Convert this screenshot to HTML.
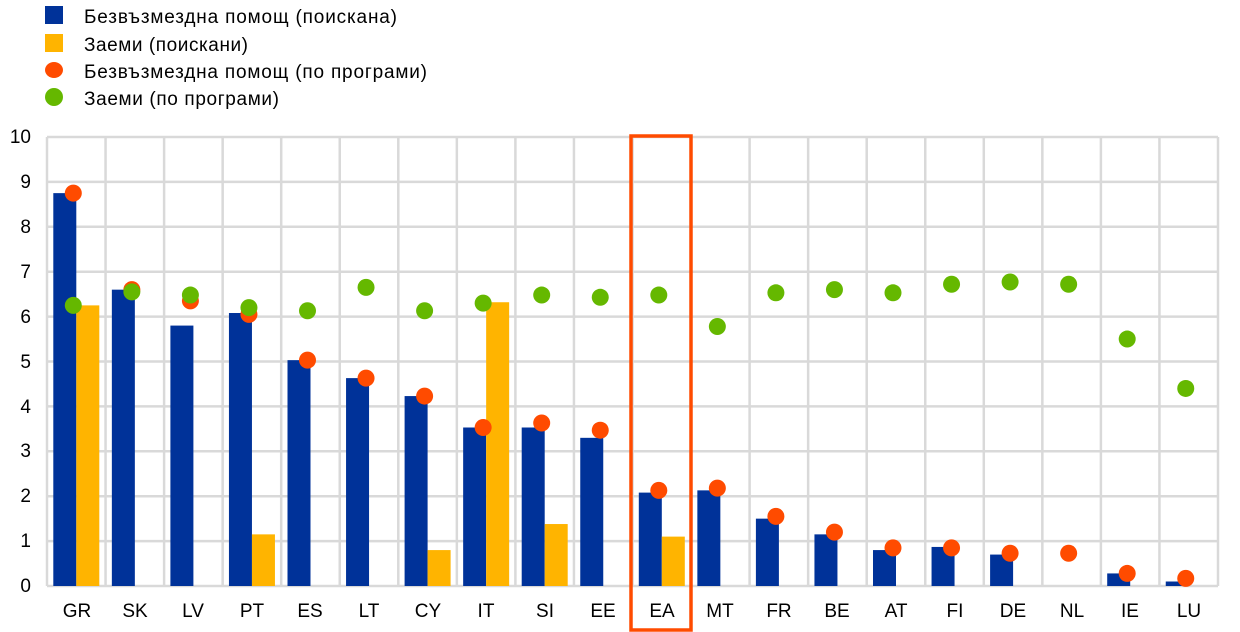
<!DOCTYPE html>
<html><head><meta charset="utf-8"><style>
body{margin:0;background:#fff;}
svg{display:block;font-family:"Liberation Sans",Arial,sans-serif;}
</style></head><body>
<svg id="s" width="1240" height="632" viewBox="0 0 1240 632" xmlns="http://www.w3.org/2000/svg">
<rect width="1240" height="632" fill="#fff"/>
<g id="grid"></g>
<g id="bars"></g>
<g id="dots"></g>
<g font-size="19" fill="#000" text-anchor="end">
<text x="31" y="143">10</text><text x="31" y="188">9</text><text x="31" y="233">8</text><text x="31" y="278">7</text><text x="31" y="323">6</text><text x="31" y="368">5</text><text x="31" y="413">4</text><text x="31" y="457">3</text><text x="31" y="502">2</text><text x="31" y="547">1</text><text x="31" y="592">0</text>
</g>
<g font-size="19" fill="#000" text-anchor="middle">
<text x="77" y="617">GR</text><text x="135" y="617">SK</text><text x="193" y="617">LV</text><text x="252" y="617">PT</text><text x="310" y="617">ES</text><text x="369" y="617">LT</text><text x="428" y="617">CY</text><text x="486" y="617">IT</text><text x="545" y="617">SI</text><text x="603" y="617">EE</text><text x="662" y="617">EA</text><text x="720" y="617">MT</text><text x="779" y="617">FR</text><text x="837" y="617">BE</text><text x="896" y="617">AT</text><text x="955" y="617">FI</text><text x="1013" y="617">DE</text><text x="1072" y="617">NL</text><text x="1130" y="617">IE</text><text x="1189" y="617">LU</text>
</g>
<rect x="631" y="136" width="60" height="494" fill="none" stroke="#ff4b00" stroke-width="3.5"/>
<rect x="45" y="6" width="18" height="18" fill="#003299"/>
<rect x="45" y="34" width="18" height="18" fill="#ffb400"/>
<ellipse cx="54" cy="70" rx="9" ry="8" fill="#ff4b00"/>
<circle cx="54" cy="97" r="9" fill="#65b800"/>
<g font-size="19" fill="#000">
<text x="84" y="23" textLength="313" lengthAdjust="spacing">Безвъзмездна помощ (поискана)</text>
<text x="84" y="51" textLength="164" lengthAdjust="spacing">Заеми (поискани)</text>
<text x="84" y="78" textLength="343" lengthAdjust="spacing">Безвъзмездна помощ (по програми)</text>
<text x="84" y="105" textLength="195" lengthAdjust="spacing">Заеми (по програми)</text>
</g>
</svg>
<script>
var ns="http://www.w3.org/2000/svg";
function el(p,t,a){var e=document.createElementNS(ns,t);for(var k in a)e.setAttribute(k,a[k]);document.getElementById(p).appendChild(e);}
function Y(v){return 586-44.9*v;}
for(var i=0;i<=10;i++)el("grid","line",{x1:47,x2:1218,y1:Y(i),y2:Y(i),stroke:"#d9d9d9","stroke-width":2.5});
for(var i=0;i<=20;i++){var x=47+58.55*i;el("grid","line",{x1:x,x2:x,y1:Y(10),y2:Y(0),stroke:"#d9d9d9","stroke-width":2.5});}
var d=[[8.75,6.25,8.75,6.25],[6.6,0,6.6,6.55],[5.8,0,6.35,6.48],[6.08,1.15,6.05,6.2],[5.03,0,5.03,6.13],[4.63,0,4.63,6.65],[4.23,0.8,4.23,6.13],[3.53,6.32,3.53,6.3],[3.53,1.38,3.63,6.48],[3.3,0,3.47,6.43],[2.08,1.1,2.13,6.48],[2.13,0,2.18,5.78],[1.5,0,1.55,6.53],[1.15,0,1.2,6.6],[0.8,0,0.85,6.53],[0.87,0,0.85,6.72],[0.7,0,0.73,6.77],[0,0,0.73,6.72],[0.28,0,0.28,5.5],[0.1,0,0.17,4.4]];
for(var i=0;i<20;i++){var c=76.3+58.55*i,r=d[i];
if(r[0])el("bars","rect",{x:c-23,y:Y(r[0]),width:23,height:44.9*r[0],fill:"#003299"});
if(r[1])el("bars","rect",{x:c,y:Y(r[1]),width:23,height:44.9*r[1],fill:"#ffb400"});
el("dots","circle",{cx:c-3,cy:Y(r[2]),r:8.5,fill:"#ff4b00"});
el("dots","circle",{cx:c-3,cy:Y(r[3]),r:8.5,fill:"#65b800"});}
</script>
</body></html>
